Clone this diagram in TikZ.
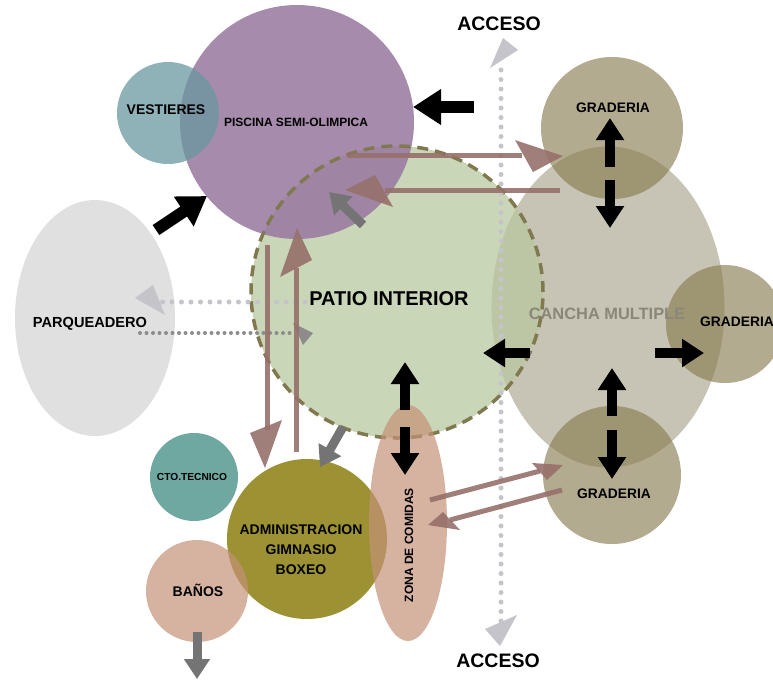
\documentclass[tikz,border=0pt]{standalone}
\usepackage{fontspec}
\setmainfont{Liberation Sans}
\usetikzlibrary{arrows.meta,shapes.geometric}

\definecolor{parqc}{RGB}{224,224,224}
\definecolor{canchac}{RGB}{200,196,181}
\definecolor{gradc}{RGB}{135,122,78}
\definecolor{patioc}{RGB}{184,200,160}
\definecolor{pisc}{RGB}{152,119,159}
\definecolor{vestc}{RGB}{105,152,160}
\definecolor{ctoc}{RGB}{111,168,160}
\definecolor{admc}{RGB}{156,146,51}
\definecolor{zonac}{RGB}{196,145,119}
\definecolor{dashc}{RGB}{128,121,80}
\definecolor{brownc}{RGB}{150,112,106}
\definecolor{grayarr}{RGB}{116,116,116}
\definecolor{dotlight}{RGB}{196,196,202}
\definecolor{dotdark}{RGB}{140,140,140}
\definecolor{canchatext}{RGB}{138,135,122}

\begin{document}
\begin{tikzpicture}[x=1pt,y=-1pt,
  rzone/.style={circle, inner sep=0pt, outer sep=0pt, minimum size=#1},
  ezone/.style={ellipse, inner sep=0pt, outer sep=0pt},
  lbl/.style={font=\bfseries\fontsize{#1}{#1}\selectfont, inner sep=0pt, align=center},
  blkarrow/.style={line width=10pt, black, -{Triangle[length=22pt,width=27pt]}},
  bigarrow/.style={line width=12pt, black, -{Triangle[length=28pt,width=34pt]}},
  grayarrow/.style={line width=9pt, grayarr, -{Triangle[length=20pt,width=25pt]}},
  brownline/.style={line width=5pt, brownc, opacity=0.9},
  brownhead/.style={fill=brownc, fill opacity=0.9},
  dotlightline/.style={dotlight, line width=5pt, line cap=round, dash pattern=on 0pt off 9.5pt},
  dotdarkline/.style={dotdark, line width=4pt, line cap=round, dash pattern=on 0pt off 6.5pt},
]
\useasboundingbox (0,0) rectangle (773,681);

% ---------- zones ----------
\node[ezone, fill=parqc, minimum width=160pt, minimum height=236pt] (parq) at (95,318) {};
\node[ezone, fill=canchac, minimum width=233pt, minimum height=321pt] (cancha) at (608,307) {};
\node[rzone=142pt, fill=gradc, fill opacity=0.63] (gradtop) at (612,128) {};
\node[rzone=118pt, fill=gradc, fill opacity=0.63] (gradright) at (725,324) {};
\node[rzone=138pt, fill=gradc, fill opacity=0.63] (gradbot) at (612,475) {};
\node[rzone=292pt, fill=patioc, fill opacity=0.75] (patio) at (397,292) {};
\node[rzone=234pt, fill=pisc, fill opacity=0.85] (piscina) at (297,122) {};
\node[rzone=102pt, fill=vestc, fill opacity=0.75] (vest) at (168,113) {};
\node[rzone=292pt, draw=dashc, line width=3.5pt, dash pattern=on 11pt off 7pt] (patioedge) at (397,292) {};
\node[rzone=88pt, fill=ctoc] (cto) at (194,477) {};
\node[rzone=160pt, fill=admc] (adm) at (307,539) {};
\node[rzone=102pt, fill=zonac, fill opacity=0.7] (banos) at (197,591) {};
\node[ezone, fill=zonac, fill opacity=0.7, minimum width=78pt, minimum height=236pt] (zona) at (408,523) {};

% ---------- dotted access lines ----------
\coordinate (accT) at (501,70);
\coordinate (accB) at (501,622);
\draw[dotlightline] (accT) -- (accB);
\fill[dotlight] (503,38) -- (490,68) -- (518,50) -- cycle;
\fill[dotlight] (500,646) -- (485,629) -- (517,615) -- cycle;

\coordinate (pq1a) at (305,302);
\coordinate (pq1b) at (160,302);
\draw[dotlightline] (pq1a) -- (pq1b);
\fill[dotlight] (135,298) -- (153,285) -- (165,315) -- cycle;

\coordinate (pq2a) at (140,333);
\coordinate (pq2b) at (295,333);
\draw[dotdarkline] (pq2a) -- (pq2b);
\fill[dotdark] (313,333) -- (293,323) -- (303,345) -- cycle;

% ---------- brown arrows ----------
\coordinate (b1a) at (347,155); \coordinate (b1b) at (522,155);
\draw[brownline] (b1a) -- (b1b);
\fill[brownhead] (563,156) -- (515,140) -- (533,172) -- cycle;

\coordinate (b2a) at (560,190); \coordinate (b2b) at (385,190);
\draw[brownline] (b2a) -- (b2b);
\fill[brownhead] (345,190) -- (375,175) -- (393,207) -- cycle;

\coordinate (b3a) at (267,245); \coordinate (b3b) at (267,430);
\draw[brownline] (b3a) -- (b3b);
\fill[brownhead] (265,468) -- (250,433) -- (282,420) -- cycle;

\coordinate (b4a) at (296,452); \coordinate (b4b) at (296,268);
\draw[brownline] (b4a) -- (b4b);
\fill[brownhead] (297,228) -- (280,277) -- (312,260) -- cycle;

\coordinate (b5a) at (430,500); \coordinate (b5b) at (540,471);
\draw[brownline] (b5a) -- (b5b);
\fill[brownhead] (563,465) -- (532,463) -- (547,480) -- cycle;

\coordinate (b6a) at (562,490); \coordinate (b6b) at (450,520);
\draw[brownline] (b6a) -- (b6b);
\fill[brownhead] (428,525) -- (443,512) -- (460,530) -- cycle;

% ---------- gray arrows ----------
\coordinate (g1a) at (363,225); \coordinate (g1b) at (329,192);
\draw[grayarrow] (g1a) -- (g1b);
\coordinate (g2a) at (343,427); \coordinate (g2b) at (320,467);
\draw[grayarrow] (g2a) -- (g2b);
\coordinate (g3a) at (197,632); \coordinate (g3b) at (197,679);
\draw[grayarrow] (g3a) -- (g3b);

% ---------- black arrows ----------
\coordinate (k1a) at (474,107); \coordinate (k1b) at (413,107);
\draw[bigarrow] (k1a) -- (k1b);
\coordinate (k2a) at (156,230); \coordinate (k2b) at (207,196);
\draw[bigarrow] (k2a) -- (k2b);

\coordinate (k3a) at (610,167); \coordinate (k3b) at (610,118);
\draw[blkarrow] (k3a) -- (k3b);
\coordinate (k4a) at (610,180); \coordinate (k4b) at (610,228);
\draw[blkarrow] (k4a) -- (k4b);
\coordinate (k5a) at (530,353); \coordinate (k5b) at (483,353);
\draw[blkarrow] (k5a) -- (k5b);
\coordinate (k6a) at (655,353); \coordinate (k6b) at (704,353);
\draw[blkarrow] (k6a) -- (k6b);
\coordinate (k7a) at (612,416); \coordinate (k7b) at (612,368);
\draw[blkarrow] (k7a) -- (k7b);
\coordinate (k8a) at (612,430); \coordinate (k8b) at (612,479);
\draw[blkarrow] (k8a) -- (k8b);
\coordinate (k9a) at (405,410); \coordinate (k9b) at (405,362);
\draw[blkarrow] (k9a) -- (k9b);
\coordinate (k10a) at (405,427); \coordinate (k10b) at (405,475);
\draw[blkarrow] (k10a) -- (k10b);

% ---------- labels ----------
\node[lbl=19.5] (accesoT) at (499,24) {ACCESO};
\node[lbl=19.5] (accesoB) at (498,661) {ACCESO};
\node[lbl=12] (tpisc) at (296,122) {PISCINA SEMI-OLIMPICA};
\node[lbl=14] (tvest) at (166,110) {VESTIERES};
\node[lbl=20] (tpatio) at (389,299) {PATIO INTERIOR};
\node[lbl=16.4, text=canchatext] (tcancha) at (607,314) {CANCHA MULTIPLE};
\node[lbl=14.6] (tparq) at (90,324) {PARQUEADERO};
\node[lbl=13.8] (tgt) at (613,108) {GRADERIA};
\node[lbl=13.8, anchor=west] (tgr) at (700,322) {GRADERIA};
\node[lbl=13.8] (tgb) at (614,494) {GRADERIA};
\node[lbl=10.2] (tcto) at (192,477) {CTO.TECNICO};
\node[font=\bfseries\fontsize{14}{20}\selectfont, align=center, inner sep=0pt] (tadm) at (301,550) {ADMINISTRACION\\GIMNASIO\\BOXEO};
\node[lbl=14] (tbanos) at (198,590) {BAÑOS};
\node[lbl=12, rotate=90] (tzona) at (409,545) {ZONA DE COMIDAS};
\end{tikzpicture}
\end{document}
